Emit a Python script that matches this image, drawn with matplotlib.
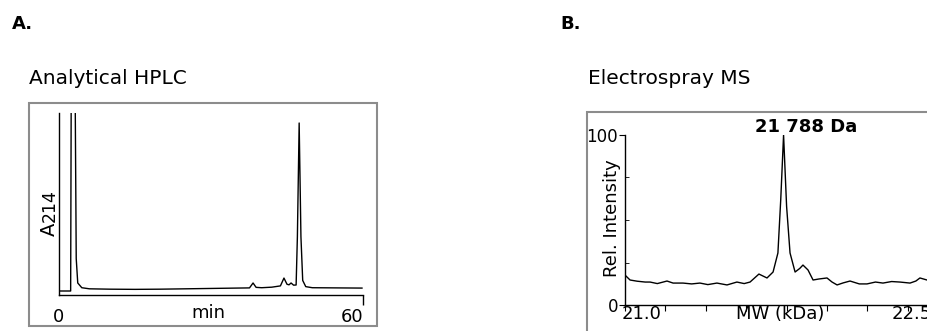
import matplotlib
matplotlib.use("Agg")
import matplotlib.pyplot as plt
from matplotlib.patches import Rectangle

W, H = 928, 331

# ---- panel A: analytical HPLC trace (time in min, A214 in % of full scale)
hplc_time = [0, 2.3, 2.45, 3.1, 3.4, 3.7, 4.5, 6, 10, 15, 20, 25, 30, 35,
             37.6, 38.3, 38.9, 40, 42, 43.7, 44.4, 45.0, 45.4, 45.8, 46.3,
             46.8, 47.05, 47.4, 47.75, 48.1, 48.7, 50, 55, 59.8]
hplc_abs = [2.2, 2.2, 150, 150, 20, 6.6, 4.0, 3.4, 3.2, 3.1, 3.2, 3.4, 3.6,
            3.8, 3.9, 6.6, 4.2, 4.0, 4.3, 5.0, 9.3, 5.9, 5.6, 6.6, 5.4,
            5.5, 32, 94.5, 32, 8, 4.6, 4.0, 3.9, 3.8]
hplc_ticks = [0, 60]
hplc_ticklabels = ["0", "60"]

# ---- panel B: deconvoluted electrospray MS (MW in kDa, rel. intensity)
ms_mw = [21.000, 21.025, 21.06, 21.10, 21.124, 21.16, 21.208, 21.238, 21.287,
         21.33, 21.371, 21.41, 21.455, 21.505, 21.554, 21.59, 21.619, 21.663,
         21.703, 21.733, 21.757, 21.771, 21.785, 21.80, 21.817, 21.842,
         21.865, 21.881, 21.906, 21.931, 21.96, 22.000, 22.025, 22.050,
         22.08, 22.114, 22.16, 22.198, 22.24, 22.277, 22.32, 22.361, 22.411,
         22.44, 22.460, 22.495]
ms_int = [17.6, 14.7, 14.0, 13.5, 13.5, 12.6, 14.1, 12.9, 12.9,
          12.4, 12.9, 12.0, 12.9, 11.8, 13.5, 12.6, 13.5, 18.2,
          15.9, 19.4, 30.6, 62, 100, 58, 30.6, 19.4,
          21.5, 23.5, 20.6, 14.7, 15.3, 15.9, 13.5, 11.8,
          13.0, 14.1, 12.4, 12.4, 13.5, 12.9, 13.8, 13.5, 12.9,
          14.1, 15.9, 14.7]
ms_xticks = [21.0, 21.2, 21.4, 21.6, 21.8, 22.0, 22.2, 22.4, 22.6]
ms_yticks = [0, 100]
ms_xlabels = {"21.0": 21.08, "22.5": 22.42}  # label -> where it sits on the axis
peak_label = "21 788 Da"

plt.rcParams["font.family"] = ["DejaVu Sans"]


def fx(x):
    return x / W


def fy(y):
    return 1 - y / H


fig = plt.figure(figsize=(W / 100, H / 100), dpi=100)

# grey frames round the panels
frame_kw = dict(transform=fig.transFigure, fill=False, lw=1.5,
                edgecolor="#8c8c8c", clip_on=False)
fig.patches.append(Rectangle((fx(29), fy(326)), fx(348), 223 / H, **frame_kw))
fig.patches.append(Rectangle((fx(587), fy(400)), fx(400), 288 / H, **frame_kw))

# panel letters and titles
fig.text(fx(12), fy(24), "A.", fontsize=13, fontweight="bold", va="center")
fig.text(fx(560), fy(24), "B.", fontsize=13, fontweight="bold", va="center")
fig.text(fx(29), fy(78), "Analytical HPLC", fontsize=14.5, va="center")
fig.text(fx(588), fy(78), "Electrospray MS", fontsize=14.5, va="center")

# ---------------- panel A
axA = fig.add_axes([fx(59), fy(295), 304 / W, 182 / H])
axA.plot(hplc_time, hplc_abs, color="black", lw=1.0)
axA.set_xlim(0, 60)
axA.set_ylim(0, 100)
axA.spines[["top", "right"]].set_visible(False)
axA.spines[["left", "bottom"]].set_linewidth(1.0)
axA.set_yticks([])
axA.set_xticks(hplc_ticks, hplc_ticklabels, fontsize=13)
axA.tick_params(axis="x", direction="out", length=7, width=1.0, pad=2)
axA.xaxis.get_major_ticks()[0].tick1line.set_visible(False)
axA.get_xticklabels()[1].set_ha("right")
fig.text(fx(208), fy(313), "min", fontsize=13, ha="center", va="center")
fig.text(fx(55), fy(236), "A", fontsize=14, rotation=90,
         rotation_mode="anchor", ha="left", va="baseline")
fig.text(fx(55), fy(222), "214", fontsize=12.5, rotation=90,
         rotation_mode="anchor", ha="left", va="baseline")

# ---------------- panel B
axB = fig.add_axes([fx(625), fy(305), (22.7 - 21.0) * 202 / W, 170 / H])
axB.plot(ms_mw, ms_int, color="black", lw=1.0)
axB.set_xlim(21.0, 22.7)
axB.set_ylim(0, 100)
axB.spines[["top", "right"]].set_visible(False)
axB.spines[["left", "bottom"]].set_linewidth(1.0)
axB.set_yticks(ms_yticks, ["0", "100"], fontsize=12)
axB.set_yticks([25, 50, 75], minor=True)
axB.tick_params(axis="y", which="major", direction="out", length=4, pad=1)
axB.tick_params(axis="y", which="minor", direction="in", length=3)
axB.set_xticks(ms_xticks, [""] * len(ms_xticks))
axB.tick_params(axis="x", direction="out", length=4)
xlab_tr = axB.get_xaxis_transform()
for text, pos in ms_xlabels.items():
    axB.text(pos, -9 / 170, text, transform=xlab_tr, fontsize=13,
             ha="center", va="center", clip_on=False)
fig.text(fx(780), fy(314), "MW (kDa)", fontsize=13, ha="center", va="center")
fig.text(fx(612), fy(218), "Rel. Intensity", fontsize=13, rotation=90,
         ha="center", va="center")
axB.text(21.895, 104.7, peak_label, fontsize=13, fontweight="bold",
         ha="center", va="center")

fig.savefig("out.png", dpi=100)
